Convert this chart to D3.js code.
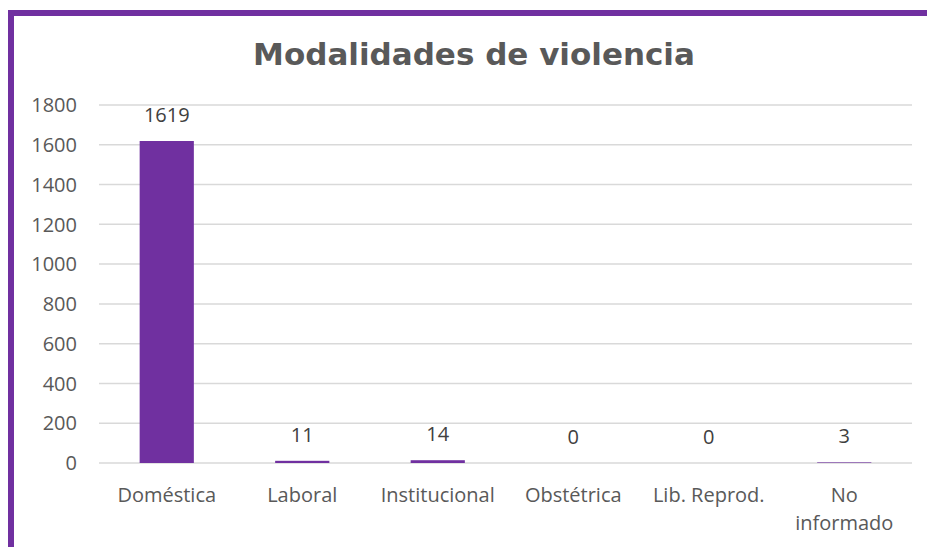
<!DOCTYPE html>
<html><head><meta charset="utf-8">
<script src="https://cdn.jsdelivr.net/npm/d3@7"></script>
<style>html,body{margin:0;padding:0;background:#fff;}svg{display:block;}</style>
</head><body>
<script>
const categories = ["Doméstica","Laboral","Institucional","Obstétrica","Lib. Reprod.","No informado"];
const values = [1619, 11, 14, 0, 0, 3];
const yTicks = [0,200,400,600,800,1000,1200,1400,1600,1800];
const title = "Modalidades de violencia";

const W = 927, H = 547;
const svg = d3.select("body").append("svg").attr("width", W).attr("height", H);
svg.append("rect").attr("x",0).attr("y",0).attr("width",W).attr("height",H).attr("fill","#fff");
// frame
svg.append("rect").attr("x",11).attr("y",13).attr("width",W+20).attr("height",H+20)
  .attr("fill","none").attr("stroke","#7030A0").attr("stroke-width",6);

const x = d3.scaleBand().domain(categories).range([99, 912]).paddingInner(0.6).paddingOuter(0.3);
const y = d3.scaleLinear().domain([0, 1800]).range([463, 105]);

svg.append("text").attr("x",474).attr("y",65).attr("text-anchor","middle")
  .attr("font-family","DejaVu Sans, Verdana, sans-serif").attr("font-weight","bold")
  .attr("font-size",31).attr("fill","#595959").text(title);

// grid
svg.append("g").selectAll("line").data(yTicks).join("line")
  .attr("x1",99).attr("x2",912).attr("y1",d=>y(d)).attr("y2",d=>y(d))
  .attr("stroke","#d9d9d9").attr("stroke-width",1.5);

// y labels
svg.append("g").selectAll("text").data(yTicks).join("text")
  .attr("x",77).attr("y",d=>y(d)).attr("dy","0.36em").attr("text-anchor","end")
  .attr("font-family","Open Sans, sans-serif").attr("font-size",20).attr("fill","#595959")
  .text(d=>d);

// bars
svg.append("g").selectAll("rect").data(values).join("rect")
  .attr("x",(d,i)=>x(categories[i])).attr("width",x.bandwidth())
  .attr("y",d=>y(d)).attr("height",d=>y(0)-y(d)).attr("fill","#7030A0");

// data labels
svg.append("g").selectAll("text").data(values).join("text")
  .attr("x",(d,i)=>x(categories[i])+x.bandwidth()/2).attr("y",d=>y(d)-19)
  .attr("text-anchor","middle").attr("font-family","Open Sans, sans-serif")
  .attr("font-size",20).attr("fill","#404040").text(d=>d);

// category labels
const cl = svg.append("g").selectAll("text").data(categories).join("text")
  .attr("x",d=>x(d)+x.bandwidth()/2).attr("y",502)
  .attr("text-anchor","middle").attr("font-family","Open Sans, sans-serif")
  .attr("font-size",20).attr("fill","#595959");
cl.each(function(d){
  const t = d3.select(this);
  const parts = d === "No informado" ? ["No","informado"] : [d];
  parts.forEach((p,i)=>{
    t.append("tspan").attr("x", x(d)+x.bandwidth()/2).attr("dy", i===0?0:28).text(p);
  });
});
</script>
</body></html>
